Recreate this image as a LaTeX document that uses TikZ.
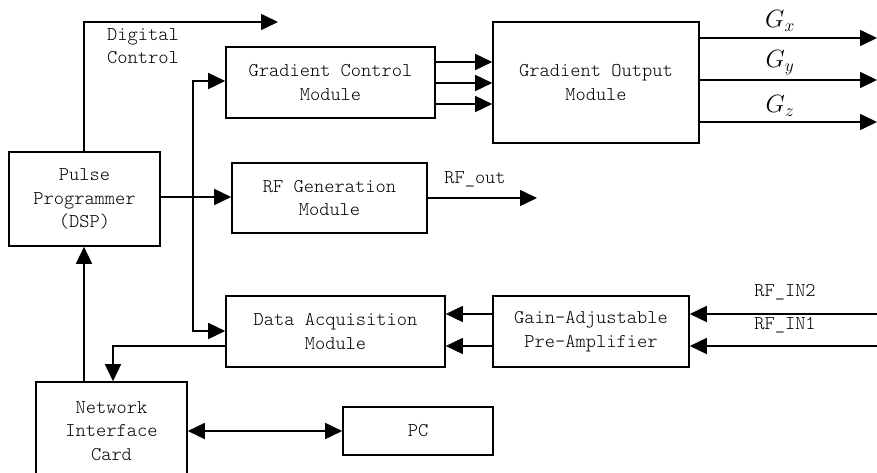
\documentclass[tikz,border=0pt]{standalone}
\usepackage{fix-cm}
\usepackage{fontspec}
\setmonofont{Latin Modern Mono Light}
\usetikzlibrary{arrows.meta}
\begin{document}
\begin{tikzpicture}[x=1pt,y=-1pt,
  box/.style={draw,line width=1.6pt,inner sep=0pt,align=center,font=\fontsize{19.5}{23.5}\selectfont\ttfamily},
  wire/.style={line width=1.6pt},
  arr/.style={wire,-{Triangle[length=17pt,width=16pt]}},
  darr/.style={wire,{Triangle[length=17pt,width=16pt]}-{Triangle[length=17pt,width=16pt]}},
  lbl/.style={font=\fontsize{19.5}{23}\selectfont\ttfamily,inner sep=0pt},
  glbl/.style={font=\fontsize{25}{28}\selectfont,inner sep=0pt}]
\useasboundingbox (0,0) rectangle (877,473);
\node[box,minimum width=151pt,minimum height=94pt] (pp) at (84.5,199) {Pulse\\Programmer\\(DSP)};
\node[box,minimum width=209pt,minimum height=71pt] (gcm) at (330.5,82.5) {Gradient Control\\Module};
\node[box,minimum width=206pt,minimum height=121pt] (gom) at (596,82.5) {Gradient Output\\Module};
\node[box,minimum width=195pt,minimum height=70pt] (rfg) at (329.5,198) {RF Generation\\Module};
\node[box,minimum width=219pt,minimum height=71pt] (daq) at (335.5,331.5) {Data Acquisition\\Module};
\node[box,minimum width=196pt,minimum height=71pt] (gap) at (591,331.5) {Gain-Adjustable\\Pre-Amplifier};
\node[box,minimum width=151pt,minimum height=98pt] (nic) at (111.5,431) {Network\\Interface\\Card};
\node[box,minimum width=150pt,minimum height=48pt] (pc) at (418,431) {PC};

\coordinate (dc) at (278,22);
\coordinate (bus) at (193,197);
\coordinate (rfo) at (537,198);
\coordinate (gx) at (877,38);
\coordinate (gy) at (877,80);
\coordinate (gz) at (877,122);
\coordinate (in2) at (877,314);
\coordinate (in1) at (877,346);

% digital control
\draw[arr] (pp.north -| 84,0) |- (dc);
\node[lbl,align=left,anchor=west] (dctxt) at (107,46) {Digital\\Control};
% bus
\draw[arr] (pp.east |- 0,197) -- (rfg.west |- 0,197);
\draw[arr] (bus) |- (gcm.west |- 0,81);
\draw[arr] (bus) |- (daq.west |- 0,331);
% gradient control -> output
\foreach \yy in {62,83,104} \draw[arr] (gcm.east |- 0,\yy) -- (gom.west |- 0,\yy);
% outputs
\draw[arr] (gom.east |- gx) -- (gx);
\draw[arr] (gom.east |- gy) -- (gy);
\draw[arr] (gom.east |- gz) -- (gz);
\node[glbl] (lgx) at (780,21) {$G_x$};
\node[glbl] (lgy) at (780,63) {$G_y$};
\node[glbl] (lgz) at (780,106) {$G_z$};
% RF out
\draw[arr] (rfg.east |- rfo) -- (rfo);
\node[lbl] (lrfo) at (475,179) {RF\_out};
% preamp
\draw[arr] (gap.west |- 0,314) -- (daq.east |- 0,314);
\draw[arr] (gap.west |- 0,346) -- (daq.east |- 0,346);
\draw[arr] (in2) -- (gap.east |- in2);
\draw[arr] (in1) -- (gap.east |- in1);
\node[lbl] (lin2) at (785,292) {RF\_IN2};
\node[lbl] (lin1) at (785,325) {RF\_IN1};
% NIC
\draw[arr] (nic.north -| 84,0) -- (pp.south -| 84,0);
\draw[arr] (daq.west |- 0,346) -| (nic.north -| 113,0);
\draw[darr] (nic.east |- 0,431) -- (pc.west |- 0,431);
\end{tikzpicture}
\end{document}
